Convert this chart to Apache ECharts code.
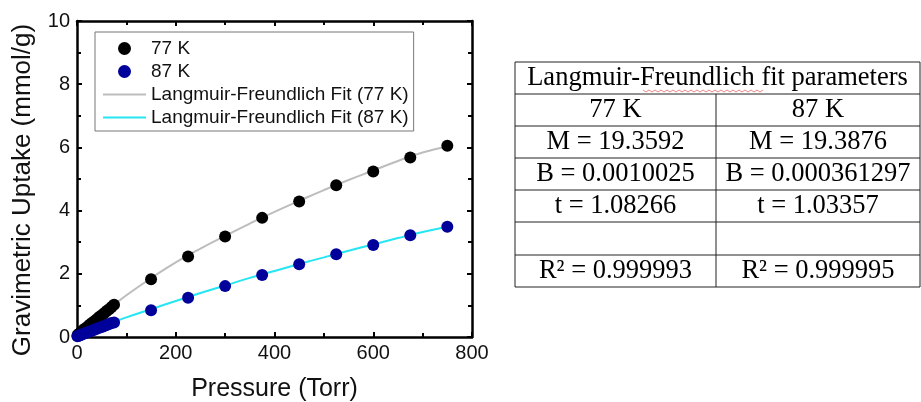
<!DOCTYPE html>
<html><head><meta charset="utf-8">
<script src="https://cdn.jsdelivr.net/npm/echarts@6/dist/echarts.min.js"></script>
<style>html,body{margin:0;padding:0;background:#fff}#c{width:921px;height:402px}</style>
</head><body><div id="c"></div>
<script>
// ---- data ----
const pressure77 = [1,3,5,8,10,13,15,20,25,30,35,40,45,50,55,60,65,70,75,150,225,300,375,450,525,600,675,750];
const uptake77   = [0.05,0.08,0.11,0.15,0.18,0.22,0.25,0.31,0.38,0.44,0.50,0.56,0.63,0.69,0.75,0.82,0.88,0.95,1.02,1.83,2.55,3.18,3.77,4.29,4.80,5.24,5.68,6.05];
const pressure87 = [1,3,5,8,10,15,20,25,30,35,40,45,50,55,60,65,70,75,150,225,300,375,450,525,600,675,750];
const uptake87   = [0.02,0.04,0.05,0.07,0.08,0.11,0.14,0.17,0.20,0.23,0.26,0.29,0.32,0.35,0.38,0.41,0.44,0.46,0.85,1.24,1.61,1.96,2.30,2.62,2.91,3.22,3.49];
const fitPressure = [0,25,50,75,100,150,200,250,300,350,400,450,500,550,600,650,700,750];
const fit77 = [0.02,0.36,0.69,1.01,1.32,1.86,2.36,2.80,3.20,3.59,3.96,4.31,4.65,4.97,5.27,5.57,5.84,6.03];
const fit87 = [0.00,0.16,0.32,0.47,0.62,0.88,1.14,1.39,1.63,1.87,2.09,2.31,2.52,2.73,2.93,3.13,3.32,3.49];
const seriesNames = ['77 K','87 K','Langmuir-Freundlich Fit (77 K)','Langmuir-Freundlich Fit (87 K)'];
const xTitle = 'Pressure (Torr)';
const yTitle = 'Gravimetric Uptake (mmol/g)';
// table
const tableTitle = 'Langmuir-Freundlich fit parameters';
const tableHeads = ['77 K','87 K'];
const col77 = ['M = 19.3592','B = 0.0010025','t = 1.08266','','R\u00B2 = 0.999993'];
const col87 = ['M = 19.3876','B = 0.000361297','t = 1.03357','','R\u00B2 = 0.999995'];

const zip = (a,b)=>a.map((v,i)=>[v,b[i]]);

const chart = echarts.init(document.getElementById('c'));
const sans = 'Liberation Sans';
const serif = 'Liberation Serif';

// table geometry
const tL=515, tM=716, tR=920;
const rowY=[62,94,126,158,190,222,255,287];
const g=[];
g.push({type:'rect',shape:{x:tL,y:rowY[0],width:tR-tL,height:rowY[7]-rowY[0]},style:{fill:'#fff',stroke:'#222',lineWidth:1}});
for(let i=1;i<7;i++) g.push({type:'line',shape:{x1:tL,y1:rowY[i],x2:tR,y2:rowY[i]},style:{stroke:'#222',lineWidth:1}});
g.push({type:'line',shape:{x1:tM,y1:rowY[1],x2:tM,y2:rowY[7]},style:{stroke:'#222',lineWidth:1}});
const tstyle=(t,x,y)=>({type:'text',x:x,y:y,style:{text:t,font:'26.5px '+serif,fill:'#000',align:'center',verticalAlign:'middle'}});
g.push(tstyle(tableTitle,(tL+tR)/2,(rowY[0]+rowY[1])/2));
g.push(tstyle(tableHeads[0],(tL+tM)/2,(rowY[1]+rowY[2])/2));
g.push(tstyle(tableHeads[1],(tM+tR)/2,(rowY[1]+rowY[2])/2));
for(let i=0;i<col77.length;i++){
  const cy=(rowY[i+2]+rowY[i+3])/2;
  if(col77[i]) g.push(tstyle(col77[i],(tL+tM)/2,cy));
  if(col87[i]) g.push(tstyle(col87[i],(tM+tR)/2,cy));
}
// spell-check squiggle under "Freundlich"
const sq=[]; for(let x=643;x<=763;x+=3){sq.push([x,(Math.round((x-643)/3)%2)?92:90]);}
g.push({type:'polyline',shape:{points:sq},style:{stroke:'#e88',lineWidth:1,fill:null}});
// y axis title
g.push({type:'text',x:23,y:190,rotation:Math.PI/2,style:{text:yTitle,font:'26px '+sans,fill:'#111',align:'center',verticalAlign:'middle'}});

const axisCommon = {
  type:'value', min:0,
  axisLine:{show:true,onZero:false,lineStyle:{color:'#000',width:2.5}},
  axisTick:{show:true,inside:true,length:5,lineStyle:{color:'#000',width:2}},
  minorTick:{show:true,splitNumber:2,length:4,lineStyle:{color:'#000',width:2}},
  splitLine:{show:false}
};

chart.setOption({
  animation:false,
  backgroundColor:'#fff',
  grid:{left:77,right:449,top:21,bottom:65,containLabel:false,outerBoundsMode:'none'},
  legend:{
    data:[{name:seriesNames[0]},{name:seriesNames[1]},
          {name:seriesNames[2],itemStyle:{opacity:0}},{name:seriesNames[3],itemStyle:{opacity:0}}],
    orient:'vertical', left:95, top:32,
    padding:[7,5,4,7], itemGap:4, itemWidth:43, itemHeight:13,
    backgroundColor:'#fff', borderColor:'#777', borderWidth:1,
    textStyle:{fontFamily:sans,fontSize:19,color:'#111',lineHeight:19}
  },
  xAxis:[
    Object.assign({},axisCommon,{position:'bottom',max:800,interval:200,
      axisLabel:{show:true,fontFamily:sans,fontSize:20,color:'#111',margin:6},
      name:xTitle,nameLocation:'middle',nameGap:40,nameTextStyle:{fontFamily:sans,fontSize:25,color:'#111'}}),
    Object.assign({},axisCommon,{position:'top',max:800,interval:200,axisLabel:{show:false}})
  ],
  yAxis:[
    Object.assign({},axisCommon,{position:'left',max:10,interval:2,
      axisLabel:{show:true,fontFamily:sans,fontSize:20,color:'#111',margin:7}}),
    Object.assign({},axisCommon,{position:'right',max:10,interval:2,axisLabel:{show:false}})
  ],
  graphic:g,
  series:[
    {name:seriesNames[0],type:'scatter',data:zip(pressure77,uptake77),symbolSize:12,itemStyle:{color:'#000',opacity:1},z:5},
    {name:seriesNames[1],type:'scatter',data:zip(pressure87,uptake87),symbolSize:12,itemStyle:{color:'#00009a',opacity:1},z:5},
    {name:seriesNames[2],type:'line',data:zip(fitPressure,fit77),smooth:true,symbol:'none',lineStyle:{color:'#bdbdbd',width:2},itemStyle:{color:'#bdbdbd'},z:2},
    {name:seriesNames[3],type:'line',data:zip(fitPressure,fit87),smooth:true,symbol:'none',lineStyle:{color:'#25e6f2',width:2},itemStyle:{color:'#25e6f2'},z:2}
  ]
});
</script>
</body></html>
